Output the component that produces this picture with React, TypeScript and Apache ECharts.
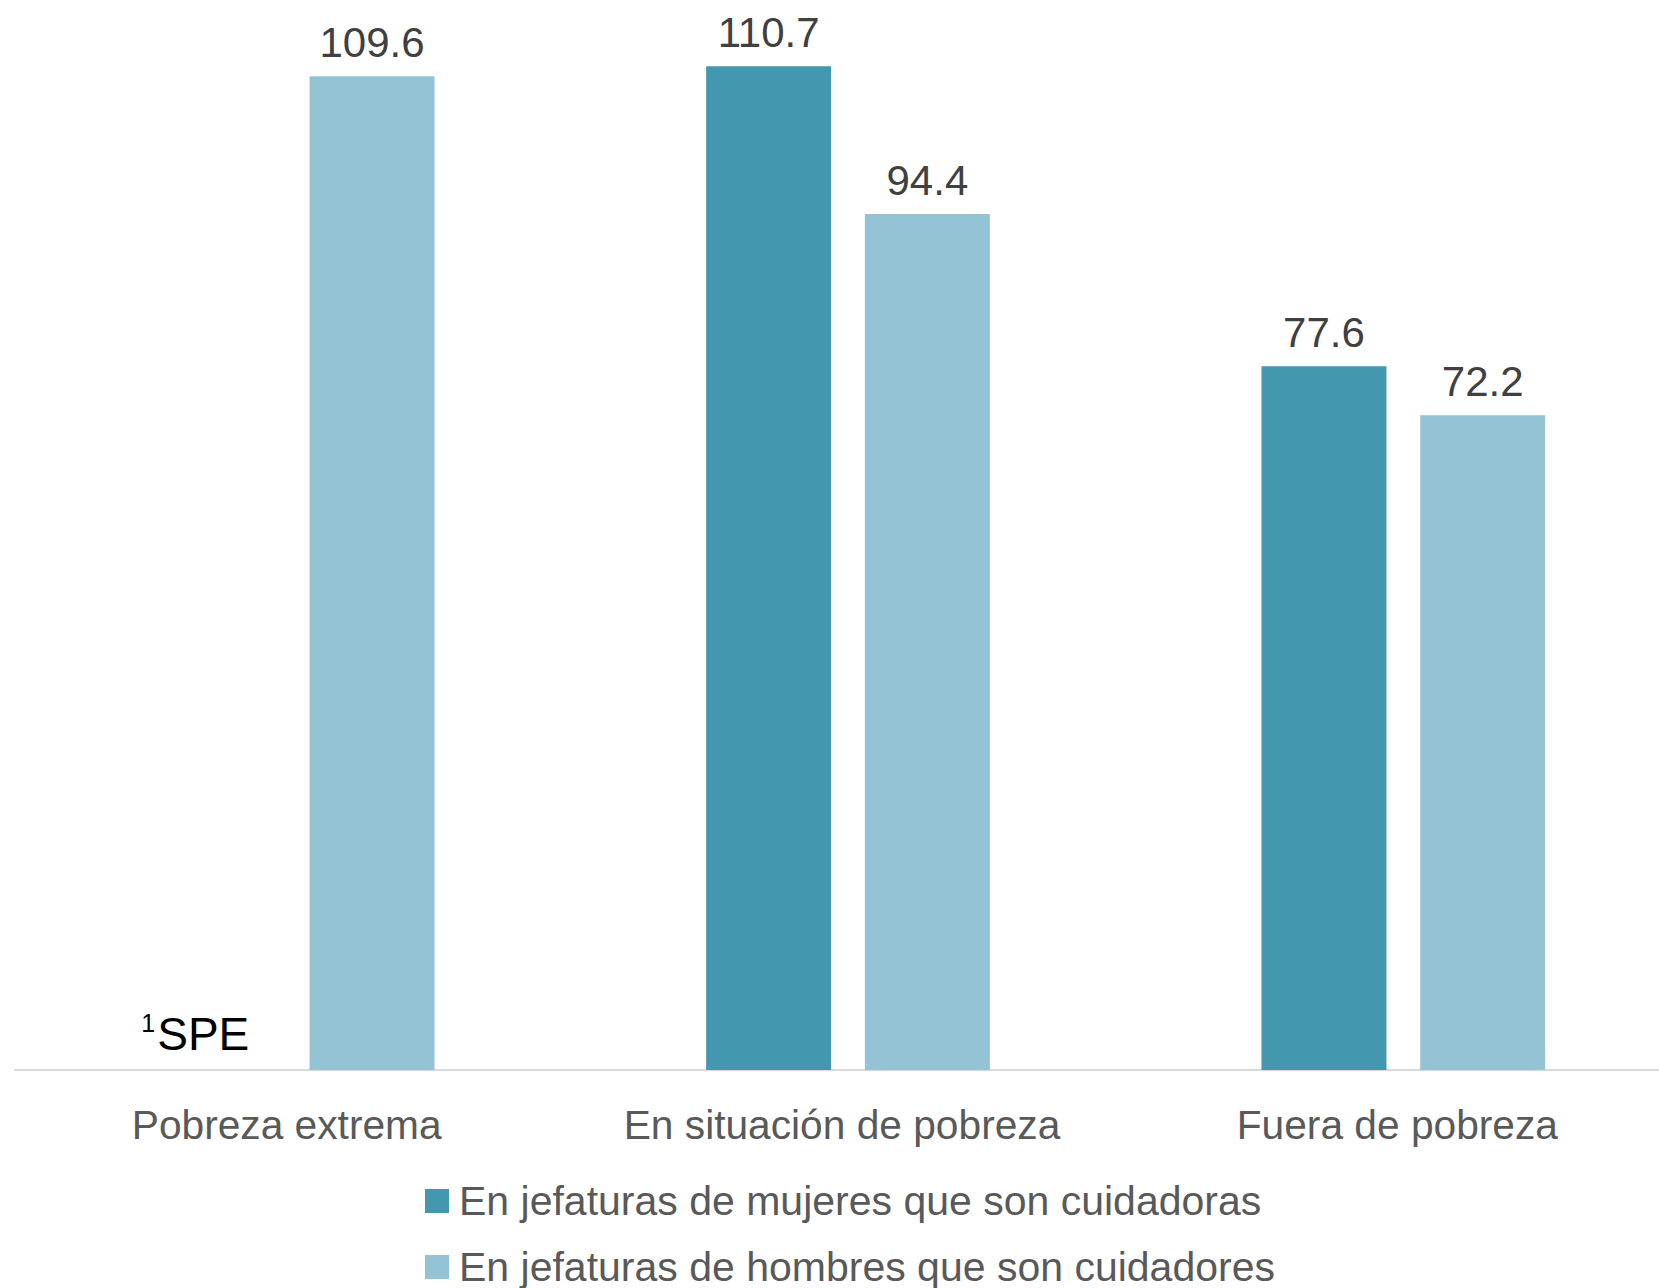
import React, { useEffect, useRef } from 'react';
import * as echarts from 'echarts';

const categories = ['Pobreza extrema', 'En situación de pobreza', 'Fuera de pobreza'];
const seriesNames = [
  'En jefaturas de mujeres que son cuidadoras',
  'En jefaturas de hombres que son cuidadores',
];
// Mujeres: first category has no estimate (¹SPE), drawn as 0 with a note label
const mujeres = [0, 110.7, 77.6];
const hombres = [109.6, 94.4, 72.2];
const noteLabels = ['SPE', '', ''];
const noteSup = '1';

const COLOR_DARK = '#4398B0';
const COLOR_LIGHT = '#93C3D5';

export default function App() {
  const ref = useRef<HTMLDivElement>(null);
  useEffect(() => {
    if (!ref.current) return;
    const chart = echarts.init(ref.current, null, { renderer: 'svg' });
    const font = "'Liberation Sans', Arial, sans-serif";
    chart.setOption({
      animation: false,
      grid: { left: 15, width: 1666, top: 0, height: 1070, containLabel: false },
      legend: {
        orient: 'vertical',
        left: 420,
        top: 1173,
        height: 300,
        itemWidth: 24,
        itemHeight: 24,
        itemGap: 20,
        icon: 'rect',
        data: seriesNames,
        textStyle: {
          fontFamily: font,
          fontSize: 41,
          lineHeight: 46,
          color: '#595959',
          padding: [0, 0, 0, 5],
        },
      },
      xAxis: {
        type: 'category',
        data: categories,
        axisLine: { show: true, lineStyle: { color: '#D9D9D9', width: 2 } },
        axisTick: { show: false },
        axisLabel: {
          interval: 0,
          fontFamily: font,
          fontSize: 40.7,
          color: '#595959',
          margin: 34,
          padding: [0, 12, 0, 0],
        },
      },
      yAxis: {
        type: 'value',
        min: 0,
        max: 118,
        show: false,
        splitLine: { show: false },
      },
      series: [
        {
          name: seriesNames[0],
          type: 'bar',
          data: mujeres,
          barWidth: 125,
          barGap: '27%',
          itemStyle: { color: COLOR_DARK },
          label: {
            show: true,
            position: 'top',
            distance: 13,
            fontFamily: font,
            fontSize: 42,
            color: '#404040',
            formatter: (p: any) =>
              noteLabels[p.dataIndex]
                ? `{sup|${noteSup}}{note|${noteLabels[p.dataIndex]}}`
                : String(p.value),
            rich: {
              sup: { fontFamily: font, fontSize: 25, color: '#000', verticalAlign: 'top', padding: [0, 2, 22, 0] },
              note: { fontFamily: font, fontSize: 46, color: '#000' },
            },
          },
          labelLayout: (p: any) => (p.dataIndex === 0 ? { dx: -18 } : {}),
        },
        {
          name: seriesNames[1],
          type: 'bar',
          data: hombres,
          barWidth: 125,
          itemStyle: { color: COLOR_LIGHT },
          label: {
            show: true,
            position: 'top',
            distance: 13,
            fontFamily: font,
            fontSize: 42,
            color: '#404040',
          },
        },
      ],
    });
    return () => chart.dispose();
  }, []);
  return (
    <div
      style={{ position: 'absolute', left: 0, top: 0, width: 1659, height: 1288, overflow: 'hidden' }}
    >
      <div ref={ref} style={{ width: 1690, height: 1288 }} />
    </div>
  );
}
